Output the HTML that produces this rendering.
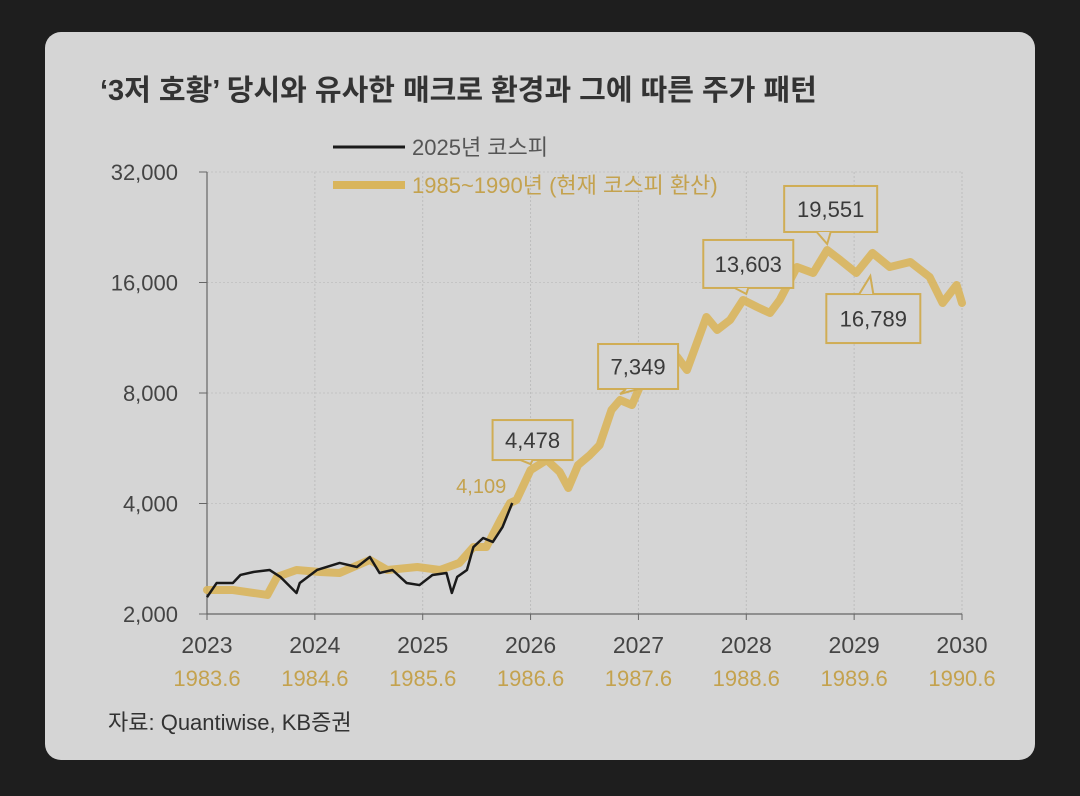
<!DOCTYPE html>
<html><head><meta charset="utf-8"><style>
body{margin:0;width:1080px;height:796px;background:#1e1e1e;overflow:hidden;font-family:"Liberation Sans","Noto Sans CJK KR",sans-serif}
#card{position:absolute;left:45px;top:32px;width:990px;height:728px;background:#d5d5d5;border-radius:16px}
</style></head><body>
<div id="card"></div>
<svg id="svg" width="1080" height="796" style="position:absolute;left:0;top:0">
<text x="100" y="100" font-size="29" font-weight="bold" fill="#333" font-family="Liberation Sans,Noto Sans CJK KR,sans-serif">‘3저 호황’ 당시와 유사한 매크로 환경과 그에 따른 주가 패턴</text>
<g id="grid"></g><g id="axes"></g><g id="series"></g><g id="callouts"></g>
<line x1="333" y1="147" x2="405" y2="147" stroke="#1a1a1a" stroke-width="3"/>
<text x="412" y="155" font-size="22" fill="#555">2025년 코스피</text>
<line x1="333" y1="185" x2="405" y2="185" stroke="#d9b55c" stroke-width="8"/>
<text x="412" y="193" font-size="22" fill="#c4a24e">1985~1990년 (현재 코스피 환산)</text>
<text x="108" y="730" font-size="22" fill="#333">자료: Quantiwise, KB증권</text>
</svg>
<script>
const yTicks=[2000,4000,8000,16000,32000];
const yTickLabels=["2,000","4,000","8,000","16,000","32,000"];
const xYears=[2023,2024,2025,2026,2027,2028,2029,2030];
const xAltLabels=["1983.6","1984.6","1985.6","1986.6","1987.6","1988.6","1989.6","1990.6"];
const goldYears=[2023.0,2023.24,2023.56,2023.65,2023.83,2024.05,2024.23,2024.51,2024.67,2024.95,2025.16,2025.34,2025.47,2025.59,2025.72,2025.81,2025.87,2026.0,2026.15,2026.27,2026.35,2026.44,2026.55,2026.64,2026.75,2026.83,2026.94,2027.08,2027.36,2027.45,2027.63,2027.73,2027.85,2027.97,2028.10,2028.22,2028.31,2028.47,2028.62,2028.75,2028.87,2029.02,2029.17,2029.33,2029.52,2029.70,2029.82,2029.95,2030.0];
const goldValues=[2325,2325,2254,2524,2636,2603,2587,2807,2636,2686,2636,2755,3044,3044,3606,4013,4090,4934,5255,4875,4408,5092,5422,5771,7190,7656,7418,9240,10030,9240,12890,11880,12650,14340,13720,13210,14340,17630,16980,19620,18430,16980,19260,17630,18200,16560,14070,15750,14070];
const blackYears=[2023.0,2023.09,2023.24,2023.31,2023.43,2023.58,2023.68,2023.83,2023.86,2024.02,2024.23,2024.39,2024.51,2024.60,2024.72,2024.85,2024.97,2025.09,2025.22,2025.27,2025.32,2025.41,2025.47,2025.56,2025.65,2025.74,2025.83];
const blackValues=[2222,2430,2430,2555,2603,2636,2524,2282,2430,2636,2755,2686,2860,2587,2636,2430,2398,2555,2587,2282,2524,2636,3044,3222,3143,3451,4013];
const calloutLabels=["4,478","7,349","13,603","19,551","16,789"];
const calloutYears=[2026.0,2026.83,2028.0,2028.75,2029.15];
const calloutValues=[4934,7656,14340,19620,17300];
const NS="http://www.w3.org/2000/svg";
const X0=207,X1=962,YB=614,YT=172;
const xs=y=>X0+(y-2023)*(X1-X0)/7;
const ys=v=>YB-Math.log2(v/2000)*(YB-YT)/4;
function mk(p,t,a){const e=document.createElementNS(NS,t);for(const k in a)e.setAttribute(k,a[k]);p.appendChild(e);return e;}
const grid=document.getElementById('grid'),axes=document.getElementById('axes'),ser=document.getElementById('series'),co=document.getElementById('callouts');
xYears.forEach((yr,i)=>{
 if(i>0){const l=mk(grid,'line',{x1:xs(yr),x2:xs(yr),y1:YT,y2:YB,stroke:'#bdbdbd','stroke-width':1,'stroke-dasharray':'2,2'});
 
 }
 const t=mk(axes,'text',{x:xs(yr),y:653,'text-anchor':'middle','font-size':23,fill:'#444'});t.textContent=yr;
 
 
 const t2=mk(axes,'text',{x:xs(yr),y:686,'text-anchor':'middle','font-size':22,fill:'#c4a24e'});t2.textContent=xAltLabels[i];
 
 
 mk(axes,'line',{x1:xs(yr),x2:xs(yr),y1:YB,y2:YB+6,stroke:'#666','stroke-width':1});
});
yTicks.forEach((v,i)=>{
 if(i>0){const l=mk(grid,'line',{x1:X0,x2:X1,y1:ys(v),y2:ys(v),stroke:'#c4c4c4','stroke-width':1,'stroke-dasharray':'2,2'});
 
 }
 mk(axes,'line',{x1:X0-8,x2:X0,y1:ys(v),y2:ys(v),stroke:'#666','stroke-width':1});
 const t=mk(axes,'text',{x:178,y:ys(v)+8,'text-anchor':'end','font-size':22,fill:'#444'});t.textContent=yTickLabels[i];
 
 
});
const ya=mk(axes,'line',{x1:X0,x2:X0,y1:YT,y2:YB,stroke:'#666','stroke-width':1.2});


const xa=mk(axes,'line',{x1:X0,x2:X1,y1:YB,y2:YB,stroke:'#666','stroke-width':1.2});


const gp=mk(ser,'polyline',{points:goldYears.map((y,i)=>xs(y)+','+ys(goldValues[i])).join(' '),fill:'none',stroke:'#d9b55c','stroke-width':8,'stroke-linejoin':'round','stroke-linecap':'round','stroke-opacity':0.9});


const bp=mk(ser,'polyline',{points:blackYears.map((y,i)=>xs(y)+','+ys(blackValues[i])).join(' '),fill:'none',stroke:'#1a1a1a','stroke-width':2.5,'stroke-linejoin':'round'});


const lt=mk(ser,'text',{x:xs(blackYears[blackYears.length-1])-6,y:ys(blackValues[blackValues.length-1])-10,'text-anchor':'end','font-size':20,fill:'#c4a24e'});
lt.textContent="4,109";


const boxOff=[[-38,-50,80,40],[-22,-56,80,45],[-43,-60,90,48],[-43,-64,93,46],[-44,24,94,49]];
calloutLabels.forEach((lab,i)=>{
 const px=xs(calloutYears[i]),py=ys(calloutValues[i]);
 const [dx,dy,w,h]=boxOff[i];const bx=px+dx,by=py+dy;
 const g=mk(co,'g',{});
 
 
 mk(g,'rect',{x:bx,y:by,width:w,height:h,fill:'#d5d5d5',stroke:'#d0ad55','stroke-width':2});
 const down=dy<0;
 const ey=down?by+h:by;
 mk(g,'polyline',{points:`${bx+w*0.35},${ey} ${px},${down?py-6:py+6} ${bx+w*0.5},${ey}`,fill:'#d5d5d5',stroke:'#d0ad55','stroke-width':2});
 const t=mk(g,'text',{x:bx+w/2,y:by+h/2+8,'text-anchor':'middle','font-size':22,fill:'#3a3a3a'});t.textContent=lab;
});
</script>
</body></html>
